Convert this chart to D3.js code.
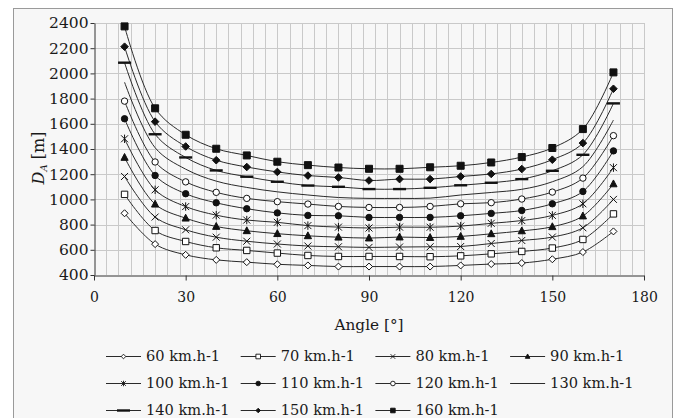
<!DOCTYPE html>
<html>
<head>
<meta charset="utf-8">
<script src="https://cdn.jsdelivr.net/npm/d3@7"></script>
<style>
  body { margin: 0; background: #fff; }
  svg text { font-family: "DejaVu Serif", serif; fill: #1a1a1a; }
</style>
</head>
<body>
<div id="chart"></div>
<script>
// angles on the x axis
const angles = [10, 20, 30, 40, 50, 60, 70, 80, 90, 100, 110, 120, 130, 140, 150, 160, 170];

// D_A values [m] per speed
const v60  = [890, 645, 560, 520, 502, 485, 476, 467, 467, 467, 467, 476, 487, 495, 525, 582, 746];
const v70  = [1040, 753, 666, 616, 595, 574, 555, 547, 547, 547, 545, 552, 568, 587, 614, 682, 885];
const v80  = [1182, 860, 759, 700, 668, 646, 630, 624, 619, 622, 624, 626, 650, 674, 701, 775, 1000];
const v90  = [1333, 962, 851, 785, 751, 728, 711, 700, 693, 701, 697, 706, 727, 750, 783, 868, 1123];
const v100 = [1481, 1076, 943, 875, 836, 818, 792, 780, 773, 780, 779, 788, 810, 832, 873, 965, 1252];
const v110 = [1640, 1190, 1045, 973, 926, 893, 873, 870, 857, 857, 857, 870, 889, 912, 965, 1063, 1385];
const v120 = [1780, 1297, 1139, 1056, 1008, 982, 963, 944, 936, 936, 944, 965, 974, 1003, 1058, 1169, 1506];
const v130 = [1930, 1410, 1240, 1145, 1095, 1060, 1035, 1015, 1008, 1008, 1010, 1035, 1055, 1080, 1140, 1260, 1630];
const v140 = [2085, 1517, 1333, 1230, 1180, 1140, 1110, 1100, 1082, 1082, 1092, 1112, 1132, 1161, 1227, 1354, 1762];
const v150 = [2212, 1617, 1420, 1311, 1257, 1218, 1189, 1174, 1150, 1161, 1161, 1182, 1202, 1241, 1315, 1447, 1878];
const v160 = [2373, 1723, 1513, 1402, 1349, 1299, 1272, 1253, 1243, 1243, 1255, 1267, 1293, 1336, 1408, 1558, 2008];

const seriesNames = ["60 km.h-1", "70 km.h-1", "80 km.h-1", "90 km.h-1", "100 km.h-1", "110 km.h-1",
  "120 km.h-1", "130 km.h-1", "140 km.h-1", "150 km.h-1", "160 km.h-1"];
const seriesValues = [v60, v70, v80, v90, v100, v110, v120, v130, v140, v150, v160];
const markerTypes = ["diamondOpen", "squareOpen", "x", "triangle", "asterisk", "circle",
  "circleOpen", "none", "dash", "diamond", "square"];

const xTicks = [0, 30, 60, 90, 120, 150, 180];
const yTicks = [400, 600, 800, 1000, 1200, 1400, 1600, 1800, 2000, 2200, 2400];

const width = 678;
const height = 418;
const plot = { left: 94, right: 644, top: 23, bottom: 275 };

const svg = d3.select("#chart").append("svg")
  .attr("width", width)
  .attr("height", height);

// outer chart frame
svg.append("rect")
  .attr("x", 13.5).attr("y", 8.5)
  .attr("width", 659).attr("height", 420)
  .attr("fill", "#f7f7f7")
  .attr("stroke", "#9a9a9a");

const x = d3.scaleLinear().domain([0, 180]).range([plot.left, plot.right]);
const y = d3.scaleLinear().domain([400, 2400]).range([plot.bottom, plot.top]);

// grid
const grid = svg.append("g").attr("stroke", "#c9c9c9").attr("stroke-width", 1);
grid.selectAll("line.v").data(d3.range(4, 181, 4)).join("line")
  .attr("class", "v")
  .attr("x1", d => Math.round(x(d)) + 0.5).attr("x2", d => Math.round(x(d)) + 0.5)
  .attr("y1", plot.top).attr("y2", plot.bottom);
grid.selectAll("line.h").data(yTicks.slice(1)).join("line")
  .attr("class", "h")
  .attr("x1", plot.left).attr("x2", plot.right)
  .attr("y1", d => Math.round(y(d)) + 0.5).attr("y2", d => Math.round(y(d)) + 0.5);

// axes
const xAxis = svg.append("g")
  .attr("transform", `translate(0,${plot.bottom + 0.5})`)
  .call(d3.axisBottom(x).tickValues(xTicks).tickFormat(d3.format("d"))
    .tickSizeInner(5).tickSizeOuter(0).tickPadding(12));
const yAxis = svg.append("g")
  .attr("transform", `translate(${plot.left + 0.5},0)`)
  .call(d3.axisLeft(y).tickValues(yTicks).tickFormat(d3.format("d"))
    .tickSizeInner(4).tickSizeOuter(0).tickPadding(2));
[xAxis, yAxis].forEach(g => {
  g.attr("font-family", null);
  g.selectAll("path, line").attr("stroke", "#333");
  g.selectAll("text").attr("fill", "#1a1a1a");
});
xAxis.selectAll("text").attr("font-size", 14);
yAxis.selectAll("text").attr("font-size", 15.5);

// marker shapes
function markerPath(type, r) {
  switch (type) {
    case "diamond":
    case "diamondOpen":
      return `M0,${-r}L${r},0L0,${r}L${-r},0Z`;
    case "square":
    case "squareOpen":
      return `M${-r},${-r}H${r}V${r}H${-r}Z`;
    case "triangle":
      return `M0,${-r * 1.1}L${r},${r * 0.8}L${-r},${r * 0.8}Z`;
    case "x":
      return `M${-r},${-r}L${r},${r}M${-r},${r}L${r},${-r}`;
    case "asterisk":
      return `M${-r},${-r}L${r},${r}M${-r},${r}L${r},${-r}M0,${-r * 1.2}V${r * 1.2}`;
    case "circle":
    case "circleOpen":
      return d3.arc()({ innerRadius: 0, outerRadius: r, startAngle: 0, endAngle: 2 * Math.PI });
    case "dash":
      return `M-6.5,-1.2H6.5V1.2H-6.5Z`;
  }
  return null;
}
function markerFill(type) {
  if (type.endsWith("Open")) return "#fff";
  if (type === "x" || type === "asterisk") return "none";
  return "#111";
}
const markerSize = { diamondOpen: 3.5, squareOpen: 3.2, x: 3.5, triangle: 3.6, asterisk: 3.5,
  circle: 3.2, circleOpen: 3.2, dash: 1, diamond: 3.8, square: 3.5 };

// series lines
const line = d3.line()
  .x((d, i) => x(angles[i]))
  .y(d => y(d))
  .curve(d3.curveCatmullRom.alpha(0.5));

const seriesG = svg.append("g");
seriesValues.forEach(vals => {
  seriesG.append("path")
    .attr("d", line(vals))
    .attr("fill", "none")
    .attr("stroke", "#2a2a2a")
    .attr("stroke-width", 1);
});
seriesValues.forEach((vals, s) => {
  const type = markerTypes[s];
  if (type === "none") return;
  seriesG.selectAll(null).data(vals).join("path")
    .attr("transform", (d, i) => `translate(${x(angles[i])},${y(d)})`)
    .attr("d", markerPath(type, markerSize[type]))
    .attr("fill", markerFill(type))
    .attr("stroke", "#111")
    .attr("stroke-width", type === "dash" ? 0 : 1);
});

// axis titles
svg.append("text")
  .attr("x", (plot.left + plot.right) / 2)
  .attr("y", 330)
  .attr("text-anchor", "middle")
  .attr("font-size", 15.3)
  .text("Angle [°]");

const yTitle = svg.append("text")
  .attr("transform", "translate(44,158) rotate(-90)")
  .attr("text-anchor", "middle")
  .attr("font-size", 16);
yTitle.append("tspan").attr("font-style", "italic").text("D");
yTitle.append("tspan").attr("font-style", "italic").attr("font-size", 10).attr("dy", 3).text("A");
yTitle.append("tspan").attr("dy", -3).text(" [m]");

// legend
const legendRows = [356, 383, 410];
const legendX0 = 106;
const legendStep = 134.7;
const legend = svg.append("g");
seriesNames.forEach((name, i) => {
  const g = legend.append("g")
    .attr("transform", `translate(${legendX0 + (i % 4) * legendStep},${legendRows[Math.floor(i / 4)]})`);
  g.append("line").attr("x1", 0).attr("x2", 35).attr("y1", 0.5).attr("y2", 0.5)
    .attr("stroke", "#2a2a2a");
  const type = markerTypes[i];
  if (type !== "none") {
    g.append("path")
      .attr("transform", "translate(17.5,0.5)")
      .attr("d", markerPath(type, type === "dash" ? 1 : 2.3))
      .attr("fill", markerFill(type))
      .attr("stroke", "#111")
      .attr("stroke-width", type === "dash" ? 0 : 0.9);
  }
  g.append("text")
    .attr("x", 40).attr("y", 0)
    .attr("dy", "0.36em")
    .attr("font-size", 14.6)
    .text(name);
});
</script>
</body>
</html>
